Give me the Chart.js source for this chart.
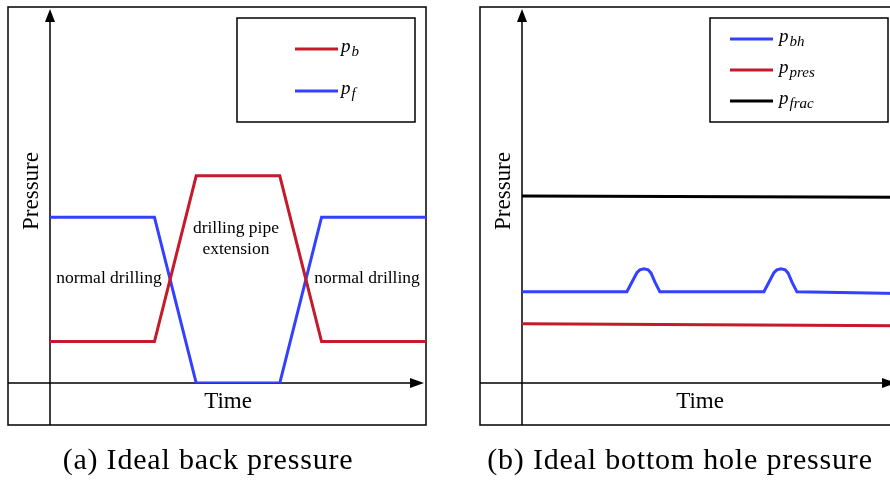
<!DOCTYPE html>
<html>
<head>
<meta charset="utf-8">
<script src="https://cdn.jsdelivr.net/npm/chart.js@4.4.1/dist/chart.umd.min.js"></script>
<style>
  html, body { margin: 0; padding: 0; background: #fff; overflow: hidden; }
  #wrap { position: relative; width: 890px; height: 480px; overflow: hidden; }
  canvas { position: absolute; top: 0; }
  #chartA { left: 0; }
  #chartB { left: 472px; }
</style>
</head>
<body>
<div id="wrap">
  <canvas id="chartA" width="445" height="480"></canvas>
  <canvas id="chartB" width="445" height="480"></canvas>
</div>
<script>
// (a) ideal back pressure
const timeA = [0, 2.5, 3.5, 5.5, 6.5, 9];
const backPressure = [1, 1, 5, 5, 1, 1];
const formationPressure = [4, 4, 0, 0, 4, 4];

// (b) ideal bottom hole pressure (two small bumps at the connections)
const timeBh = [0, 2.51, 2.75, 2.82, 2.92, 3.02, 3.09, 3.18, 3.3,
                5.79, 6.03, 6.1, 6.2, 6.3, 6.37, 6.46, 6.58, 9];
const bottomHolePressure = [2.2, 2.2, 2.66, 2.73, 2.755, 2.73, 2.65, 2.44, 2.2,
                            2.2, 2.66, 2.73, 2.755, 2.73, 2.65, 2.44, 2.2, 2.16];
const timeFlat = [0, 9];
const reservoirPressure = [1.43, 1.38];
const fracturePressure = [4.51, 4.48];

const RED = '#c41a2a';
const BLUE = '#3340ff';
const SERIF = "'Liberation Serif', 'Times New Roman', serif";

function pts(xs, ys) {
    return xs.map((x, i) => ({ x: x, y: ys[i] }));
}

// frame, axes with arrows, axis titles, caption, notes and legend
const decor = {
    id: 'decor',
    beforeDraw(chart, args, o) {
        const ctx = chart.ctx;
        const sx = chart.scales.x, sy = chart.scales.y;
        const x0 = sx.getPixelForValue(0), y0 = sy.getPixelForValue(0);
        const [bx, by, bw, bh] = o.frame;
        ctx.save();
        ctx.fillStyle = '#fff';
        ctx.fillRect(0, 0, chart.width, chart.height);
        ctx.strokeStyle = '#000';
        ctx.lineWidth = 1.5;
        ctx.strokeRect(bx, by, bw, bh);

        const tipX = 424, tipY = 9;
        ctx.beginPath();
        ctx.moveTo(bx, y0); ctx.lineTo(tipX - 8, y0);
        ctx.moveTo(x0, by + bh); ctx.lineTo(x0, tipY + 8);
        ctx.stroke();
        ctx.fillStyle = '#000';
        ctx.beginPath();
        ctx.moveTo(tipX, y0); ctx.lineTo(tipX - 14, y0 - 5); ctx.lineTo(tipX - 14, y0 + 5);
        ctx.closePath(); ctx.fill();
        ctx.beginPath();
        ctx.moveTo(x0, tipY); ctx.lineTo(x0 - 5, tipY + 13); ctx.lineTo(x0 + 5, tipY + 13);
        ctx.closePath(); ctx.fill();

        ctx.font = '23px ' + SERIF;
        ctx.textAlign = 'center';
        ctx.textBaseline = 'alphabetic';
        ctx.fillText('Time', 228, 408);
        ctx.save();
        ctx.translate(38, 191);
        ctx.rotate(-Math.PI / 2);
        ctx.fillText('Pressure', 0, 0);
        ctx.restore();

        ctx.font = '30px ' + SERIF;
        ctx.letterSpacing = '0.8px';
        ctx.fillText(o.caption, 208, 469);
        ctx.restore();
    },
    afterDatasetsDraw(chart, args, o) {
        const ctx = chart.ctx;
        const sx = chart.scales.x, sy = chart.scales.y;
        ctx.save();
        ctx.fillStyle = '#000';
        ctx.font = '17.5px ' + SERIF;
        ctx.textAlign = 'center';
        ctx.textBaseline = 'middle';
        (o.notes || []).forEach(n => {
            const cx = sx.getPixelForValue(n.x), cy = sy.getPixelForValue(n.y);
            n.lines.forEach((t, i) => {
                ctx.fillText(t, cx, cy + (i - (n.lines.length - 1) / 2) * 21);
            });
        });

        const lg = o.legend;
        const [lx, ly, lw, lh] = lg.box;
        ctx.fillStyle = '#fff';
        ctx.fillRect(lx, ly, lw, lh);
        ctx.strokeStyle = '#000';
        ctx.lineWidth = 1.5;
        ctx.strokeRect(lx, ly, lw, lh);
        ctx.textAlign = 'left';
        ctx.textBaseline = 'alphabetic';
        lg.order.forEach((di, i) => {
            const ds = chart.data.datasets[di];
            const ry = lg.rows[i];
            ctx.strokeStyle = ds.borderColor;
            ctx.lineWidth = 3;
            ctx.beginPath();
            ctx.moveTo(lg.lineX, ry);
            ctx.lineTo(lg.lineX + 43, ry);
            ctx.stroke();
            const [main, sub] = ds.label.split('_');
            const tx = lg.lineX + 43 + lg.gap;
            ctx.fillStyle = '#000';
            ctx.font = 'italic 19px ' + SERIF;
            ctx.fillText(main, tx, ry + 3);
            const w = ctx.measureText(main).width;
            ctx.font = 'italic 15px ' + SERIF;
            ctx.fillText(sub, tx + w + 1, ry + 7);
        });
        ctx.restore();
    }
};

function makeChart(id, datasets, decorOpts) {
    return new Chart(document.getElementById(id), {
        type: 'line',
        data: { datasets: datasets },
        options: {
            responsive: false,
            animation: false,
            layout: { padding: { left: 50, top: 10, right: 19, bottom: 97 } },
            elements: {
                point: { radius: 0 },
                line: { borderWidth: 3, tension: 0 }
            },
            scales: {
                x: { type: 'linear', min: 0, max: 9, display: false },
                y: { type: 'linear', min: 0, max: 9, display: false }
            },
            plugins: {
                legend: { display: false },
                tooltip: { enabled: false },
                decor: decorOpts
            }
        },
        plugins: [decor]
    });
}

makeChart('chartA', [
    { label: 'p_b', data: pts(timeA, backPressure), borderColor: RED },
    { label: 'p_f', data: pts(timeA, formationPressure), borderColor: BLUE }
], {
    frame: [8, 7, 418, 418],
    caption: '(a) Ideal back pressure',
    notes: [
        { lines: ['normal drilling'], x: 1.41, y: 2.53 },
        { lines: ['drilling pipe', 'extension'], x: 4.45, y: 3.47 },
        { lines: ['normal drilling'], x: 7.59, y: 2.53 }
    ],
    legend: { box: [237, 18, 178, 104], lineX: 295, gap: 3, rows: [49, 91], order: [0, 1] }
});

makeChart('chartB', [
    { label: 'p_bh', data: pts(timeBh, bottomHolePressure), borderColor: BLUE },
    { label: 'p_pres', data: pts(timeFlat, reservoirPressure), borderColor: RED },
    { label: 'p_frac', data: pts(timeFlat, fracturePressure), borderColor: '#000' }
], {
    frame: [8, 7, 418, 418],
    caption: '(b) Ideal bottom hole pressure',
    notes: [],
    legend: { box: [238, 18, 178, 104], lineX: 258, gap: 6, rows: [39, 70, 101], order: [0, 1, 2] }
});
</script>
</body>
</html>
